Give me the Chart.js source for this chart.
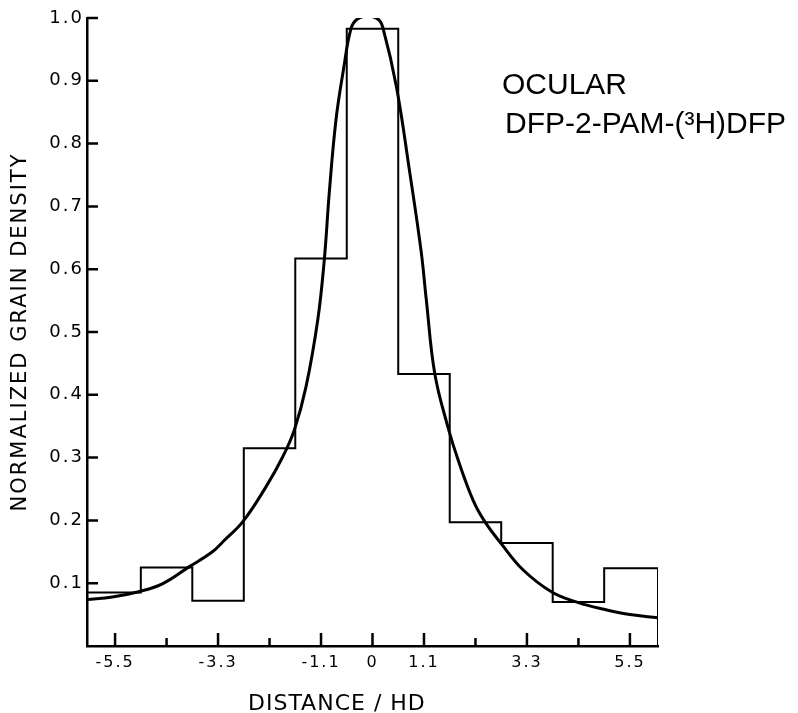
<!DOCTYPE html>
<html><head><meta charset="utf-8">
<script src="https://cdn.jsdelivr.net/npm/chart.js@4.4.1/dist/chart.umd.min.js"></script>
<style>html,body{margin:0;padding:0;background:#fff}#wrap{width:798px;height:713px;position:relative}canvas{display:block}</style>
</head><body><div id="wrap"><canvas id="c" width="798" height="713"></canvas></div>
<script>
// ---- data ----
const binEdges  = [-6.1, -4.95, -3.85, -2.75, -1.65, -0.55, 0.55, 1.65, 2.75, 3.85, 4.95, 6.1];
const binValues = [0.085, 0.125, 0.072, 0.315, 0.617, 0.983, 0.433, 0.197, 0.164, 0.070, 0.124];

const curveX = [-6.1, -5.56, -5.02, -4.49, -3.92, -3.42, -3.17, -2.77, -2.28, -1.92, -1.67, -1.42, -1.17, -1.03, -0.92, -0.78, -0.62, -0.46, -0.33, -0.1, 0.12, 0.22, 0.51, 0.79, 1.04, 1.15, 1.33, 1.61, 1.83, 2.15, 2.4, 2.75, 3.22, 3.83, 4.4, 4.97, 5.5, 6.1];
const curveY = [0.074, 0.078, 0.086, 0.099, 0.126, 0.150, 0.168, 0.198, 0.253, 0.301, 0.344, 0.413, 0.519, 0.615, 0.725, 0.838, 0.918, 0.983, 0.998, 1.003, 0.998, 0.985, 0.891, 0.757, 0.628, 0.551, 0.434, 0.349, 0.296, 0.232, 0.198, 0.163, 0.121, 0.086, 0.069, 0.058, 0.050, 0.045];

const xTickValues = [-5.5, -4.4, -3.3, -2.2, -1.1, 0, 1.1, 2.2, 3.3, 4.4, 5.5];
const xTickLabels = ['-5.5', '', '-3.3', '', '-1.1', '0', '1.1', '', '3.3', '', '5.5'];
const yTickValues = [0.1, 0.2, 0.3, 0.4, 0.5, 0.6, 0.7, 0.8, 0.9, 1.0];
const yTickLabels = ['0.1', '0.2', '0.3', '0.4', '0.5', '0.6', '0.7', '0.8', '0.9', '1.0'];

const titleLines = ['OCULAR', 'DFP-2-PAM-(\u00B3H)DFP'];
const xTitle = 'DISTANCE / HD';
const yTitle = 'NORMALIZED GRAIN DENSITY';

// ---- build datasets ----
const histPoints = [{x: binEdges[0], y: 0}];
binValues.forEach((v, i) => histPoints.push({x: binEdges[i], y: v}));
histPoints.push({x: binEdges[binEdges.length - 1], y: 0});
const curvePoints = curveX.map((x, i) => ({x, y: curveY[i]}));

const decor = {
  id: 'decor',
  beforeDraw(chart) { chart.ctx.letterSpacing = '2px'; },
  afterDraw(chart) {
    const ctx = chart.ctx, xs = chart.scales.x, ys = chart.scales.y;
    ctx.save();
    ctx.strokeStyle = '#000';
    ctx.lineWidth = 2.5;
    ctx.beginPath();
    xTickValues.forEach((v, i) => {
      const px = xs.getPixelForValue(v);
      const len = xTickLabels[i] ? 13 : 8;
      ctx.moveTo(px, xs.top);
      ctx.lineTo(px, xs.top - len);
    });
    yTickValues.forEach(v => {
      const py = ys.getPixelForValue(v);
      ctx.moveTo(ys.right, py);
      ctx.lineTo(ys.right + 11, py);
    });
    ctx.stroke();
    ctx.fillStyle = '#000';
    ctx.textAlign = 'left';
    ctx.textBaseline = 'alphabetic';
    ctx.letterSpacing = '0px';
    ctx.font = '30px "Liberation Sans", Arial, sans-serif';
    ctx.fillText(titleLines[0], 502, 94);
    ctx.fillText(titleLines[1], 505, 133);
    ctx.letterSpacing = '1px';
    ctx.font = '22px "DejaVu Sans", sans-serif';
    ctx.fillText(xTitle, 248, 710);
    ctx.restore();
  }
};

new Chart(document.getElementById('c'), {
  type: 'line',
  data: {
    datasets: [
      { label: 'histogram', data: histPoints, stepped: true, borderColor: '#000', borderWidth: 2, pointRadius: 0, fill: false },
      { label: 'fit', data: curvePoints, borderColor: '#000', borderWidth: 3, pointRadius: 0, fill: false, tension: 0.4 }
    ]
  },
  options: {
    responsive: false,
    animation: false,
    devicePixelRatio: 1,
    layout: { padding: { top: 18, right: 140, left: 0, bottom: 0 } },
    plugins: { legend: { display: false }, tooltip: { enabled: false } },
    scales: {
      x: {
        type: 'linear', min: -6.1, max: 6.1,
        afterFit(s) { s.height = 67; },
        afterBuildTicks(s) { s.ticks = xTickValues.map(v => ({value: v})); },
        grid: { display: true, drawOnChartArea: false, drawTicks: false },
        border: { display: true, color: '#000', width: 2.5 },
        ticks: { autoSkip: false, maxRotation: 0, padding: 7, color: '#000',
          font: { family: '"DejaVu Sans", sans-serif', size: 16 },
          callback: (v, i) => xTickLabels[i] }
      },
      y: {
        type: 'linear', min: 0, max: 1.0,
        afterFit(s) { s.width = 87; },
        afterBuildTicks(s) { s.ticks = yTickValues.map(v => ({value: v})); },
        grid: { display: true, drawOnChartArea: false, drawTicks: false },
        border: { display: true, color: '#000', width: 2.5 },
        ticks: { autoSkip: false, padding: 3, color: '#000',
          font: { family: '"DejaVu Sans", sans-serif', size: 18 },
          callback: (v, i) => yTickLabels[i] },
        title: { display: true, text: yTitle, color: '#000', padding: { top: 8 },
          font: { family: '"DejaVu Sans", sans-serif', size: 21 } }
      }
    }
  },
  plugins: [decor]
});
</script>
</body></html>
